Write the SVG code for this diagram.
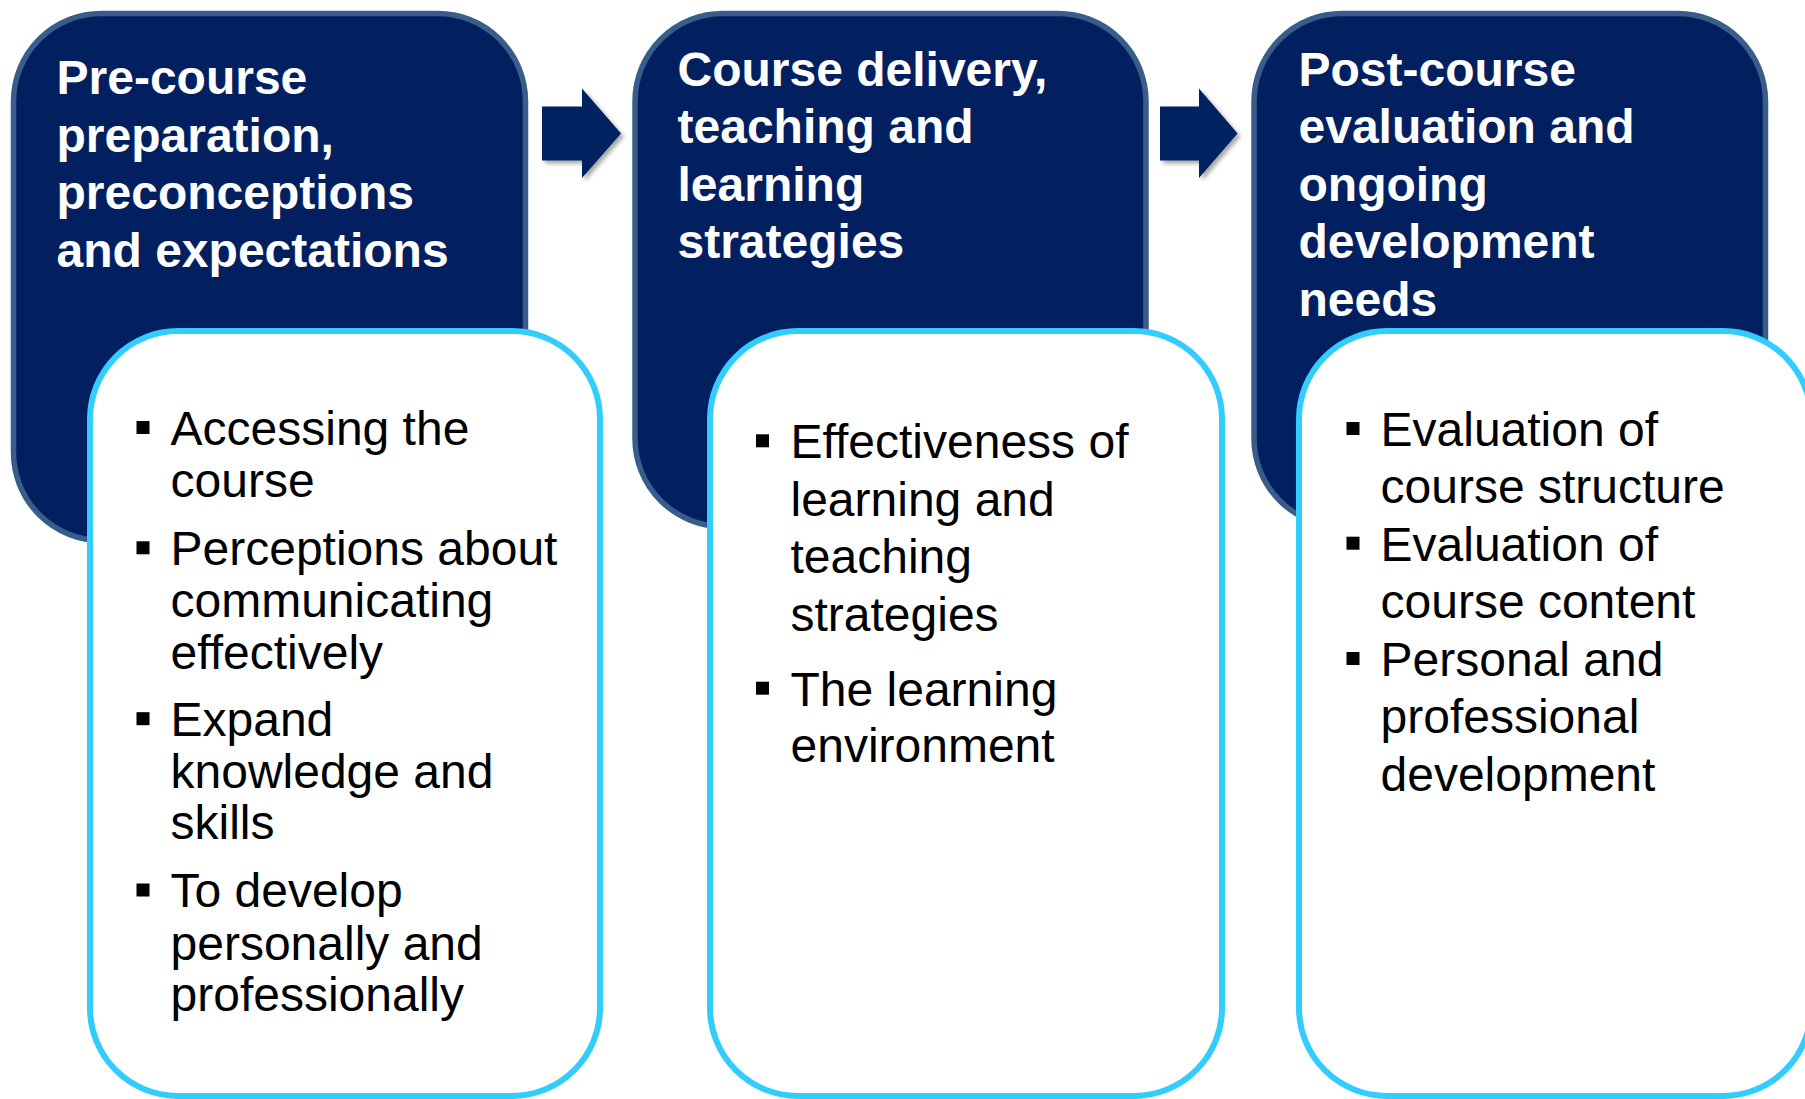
<svg xmlns="http://www.w3.org/2000/svg" width="1805" height="1099" viewBox="0 0 1805 1099">
  <defs>
    <style>
      .stage { fill: #022060; stroke: #385D8A; stroke-width: 5.5; }
      .card { fill: #FFFFFF; stroke: #33CCFF; stroke-width: 6; }
      .title { font-family: "Liberation Sans", Arial, sans-serif; font-weight: bold; font-size: 48px; fill: #FFFFFF; }
      .item { font-family: "Liberation Sans", Arial, sans-serif; font-size: 48px; fill: #000000; }
      .bullet { fill: #000000; }
      .arrow { fill: #022060; filter: url(#arrowShadow); }
    </style>
    <filter id="arrowShadow" x="-20%" y="-20%" width="150%" height="150%">
      <feGaussianBlur in="SourceAlpha" stdDeviation="2"/>
      <feOffset dx="2.5" dy="3" result="off"/>
      <feComponentTransfer><feFuncA type="linear" slope="0.35"/></feComponentTransfer>
      <feMerge><feMergeNode/><feMergeNode in="SourceGraphic"/></feMerge>
    </filter>
  </defs>

  <rect width="1805" height="1099" fill="#FFFFFF"/>

  <!-- stage 1: before the course -->
  <g id="stage-pre">
    <rect class="stage" x="13.5" y="13.5" width="512" height="527" rx="88" ry="88"/>
    <text class="title">
      <tspan x="56.5" y="94">Pre-course</tspan>
      <tspan x="56.5" y="151.5">preparation,</tspan>
      <tspan x="56.5" y="209">preconceptions</tspan>
      <tspan x="56.5" y="266.5">and expectations</tspan>
    </text>
  </g>

  <!-- stage 2: during the course -->
  <g id="stage-delivery">
    <rect class="stage" x="635" y="13.5" width="511" height="513" rx="88" ry="88"/>
    <text class="title">
      <tspan x="677.5" y="85.5">Course delivery,</tspan>
      <tspan x="677.5" y="143">teaching and</tspan>
      <tspan x="677.5" y="200.5">learning</tspan>
      <tspan x="677.5" y="258">strategies</tspan>
    </text>
  </g>

  <!-- stage 3: after the course -->
  <g id="stage-post">
    <rect class="stage" x="1254" y="13.5" width="511.5" height="513" rx="88" ry="88"/>
    <text class="title">
      <tspan x="1298.5" y="85.7">Post-course</tspan>
      <tspan x="1298.5" y="143.2">evaluation and</tspan>
      <tspan x="1298.5" y="200.7">ongoing</tspan>
      <tspan x="1298.5" y="258.2">development</tspan>
      <tspan x="1298.5" y="315.7">needs</tspan>
    </text>
  </g>

  <!-- flow arrows between stages -->
  <g id="connectors">
    <polygon class="arrow" points="542,106.5 582,106.5 582,88.5 621,133.5 582,178 582,160.5 542,160.5"/>
    <polygon class="arrow" points="1160,106.5 1199,106.5 1199,88.5 1237.5,133.5 1199,178 1199,160.5 1160,160.5"/>
  </g>

  <!-- detail card 1 -->
  <g id="card-pre">
    <rect class="card" x="90" y="331" width="510" height="765" rx="88" ry="88"/>
    <rect class="bullet" x="136.5" y="421" width="13" height="13"/>
    <rect class="bullet" x="136.5" y="541.3" width="13" height="13"/>
    <rect class="bullet" x="136.5" y="712.2" width="13" height="13"/>
    <rect class="bullet" x="136.5" y="883.5" width="13" height="13"/>
    <text class="item">
      <tspan x="170.5" y="444.6">Accessing the</tspan>
      <tspan x="170.5" y="496.5">course</tspan>
      <tspan x="170.5" y="564.8">Perceptions about</tspan>
      <tspan x="170.5" y="616.8">communicating</tspan>
      <tspan x="170.5" y="668.6">effectively</tspan>
      <tspan x="170.5" y="735.7">Expand</tspan>
      <tspan x="170.5" y="787.5">knowledge and</tspan>
      <tspan x="170.5" y="839.3">skills</tspan>
      <tspan x="170.5" y="907">To develop</tspan>
      <tspan x="170.5" y="959.6">personally and</tspan>
      <tspan x="170.5" y="1010.7">professionally</tspan>
    </text>
  </g>

  <!-- detail card 2 -->
  <g id="card-delivery">
    <rect class="card" x="710" y="331" width="512" height="765" rx="88" ry="88"/>
    <rect class="bullet" x="756" y="434.3" width="13" height="13"/>
    <rect class="bullet" x="756" y="681.7" width="13" height="13"/>
    <text class="item">
      <tspan x="790.5" y="458.3">Effectiveness of</tspan>
      <tspan x="790.5" y="516">learning and</tspan>
      <tspan x="790.5" y="573.3">teaching</tspan>
      <tspan x="790.5" y="630.7">strategies</tspan>
      <tspan x="790.5" y="705.7">The learning</tspan>
      <tspan x="790.5" y="761.7">environment</tspan>
    </text>
  </g>

  <!-- detail card 3 -->
  <g id="card-post">
    <rect class="card" x="1299" y="331" width="512" height="765" rx="88" ry="88"/>
    <rect class="bullet" x="1346.5" y="422" width="13" height="13"/>
    <rect class="bullet" x="1346.5" y="536.7" width="13" height="13"/>
    <rect class="bullet" x="1346.5" y="652" width="13" height="13"/>
    <text class="item">
      <tspan x="1380.5" y="446">Evaluation of</tspan>
      <tspan x="1380.5" y="503.3">course structure</tspan>
      <tspan x="1380.5" y="560.7">Evaluation of</tspan>
      <tspan x="1380.5" y="617.7">course content</tspan>
      <tspan x="1380.5" y="676">Personal and</tspan>
      <tspan x="1380.5" y="733.3">professional</tspan>
      <tspan x="1380.5" y="790.7">development</tspan>
    </text>
  </g>
</svg>
